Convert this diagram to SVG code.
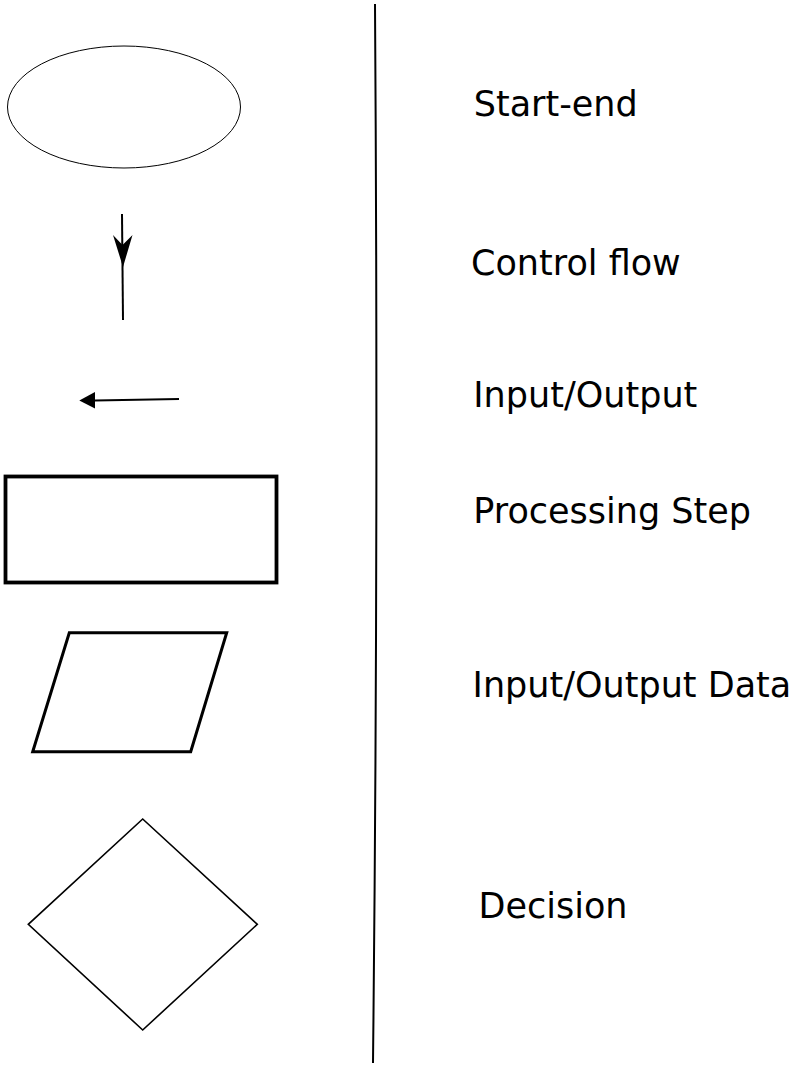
<svg xmlns="http://www.w3.org/2000/svg" width="791" height="1065" viewBox="0 0 791 1065">
  <style>
    .shape { fill: #ffffff; stroke: #000000; }
    .label { font-family: "DejaVu Sans", sans-serif; font-size: 35px; fill: #000000; }
    .conn { fill: none; stroke: #000000; stroke-width: 2; }
    .head { fill: #000000; stroke: none; }
  </style>

  <rect width="791" height="1065" fill="#ffffff"/>

  <!-- symbols -->
  <g id="start-end">
    <ellipse class="shape" cx="124" cy="107" rx="116.5" ry="61" stroke-width="1"/>
  </g>
  <g id="processing-step">
    <rect class="shape" x="5.5" y="476.5" width="271" height="106" stroke-width="3.8"/>
  </g>
  <g id="io-data">
    <polygon class="shape" points="69.3,632.7 226.7,632.7 190.7,751.7 32.7,751.7" stroke-width="3"/>
  </g>
  <g id="decision">
    <polygon class="shape" points="142.7,819 257.3,924.3 142.7,1030 28.3,924.3" stroke-width="1.6"/>
  </g>

  <!-- connectors -->
  <g id="connectors">
    <!-- control flow arrow, head in the upper half -->
    <path class="conn" d="M122,214 L123,320"/>
    <path class="head" d="M113,235 L122.5,245 L132.5,235 L123,267 Z"/>
    <!-- input/output arrow pointing left -->
    <path class="conn" d="M179,399 L95,400.5"/>
    <path class="head" d="M95,392 L79.3,400.5 L95,408.5 Z"/>
    <!-- divider -->
    <path class="conn" d="M375,4 Q378.6,540 373,1063"/>
  </g>

  <!-- legend texts -->
  <g id="labels">
    <text class="label" x="473.7" y="115.5">Start-end</text>
    <text class="label" x="471" y="275">Control flow</text>
    <text class="label" x="473.3" y="407">Input/Output</text>
    <text class="label" x="473.3" y="523">Processing Step</text>
    <text class="label" x="472.6" y="697">Input/Output Data</text>
    <text class="label" x="478.5" y="918">Decision</text>
  </g>
</svg>
